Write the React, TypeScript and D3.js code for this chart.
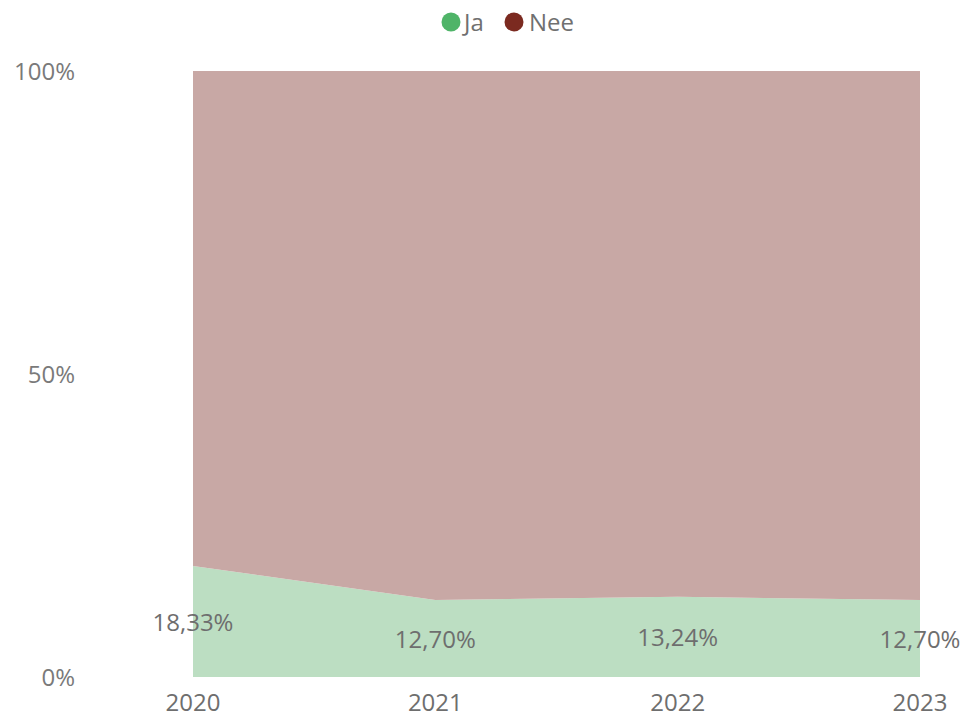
import React from "react";
import * as d3 from "d3";

const years = ["2020", "2021", "2022", "2023"];
const jaValues = [18.33, 12.7, 13.24, 12.7];
const neeValues = [81.67, 87.3, 86.76, 87.3];
const yTicks = [0, 50, 100];
const seriesNames = ["Ja", "Nee"];
const dotColors = ["#4fb468", "#7b2a20"];
const areaColors = ["#bcdec2", "#c8a8a5"];

const W = 965;
const H = 718;
const left = 193;
const right = 920;
const top = 71;
const bottom = 677;
const font = "'Segoe UI', 'Open Sans', 'Noto Sans', sans-serif";
const fs = 24;

export default function App() {
  const x = d3.scalePoint<string>().domain(years).range([left, right]);
  const y = d3.scaleLinear().domain([0, 100]).range([bottom, top]);

  const data = years.map((yr, i) => ({ year: yr, Ja: jaValues[i], Nee: neeValues[i] }));
  const stack = d3.stack<any>().keys(seriesNames);
  const series = stack(data);
  const area = d3
    .area<any>()
    .x((d) => x(d.data.year) as number)
    .y0((d) => y(d[0]))
    .y1((d) => y(d[1]));

  const fmt = (v: number) => v.toFixed(2).replace(".", ",") + "%";

  return (
    <svg width={W} height={H} style={{ position: "absolute", left: 0, top: 0, background: "#fff" }}>
      {series.map((s, i) => (
        <path key={s.key} d={area(s) || ""} fill={areaColors[i]} />
      ))}
      {yTicks.map((t) => (
        <text key={t} x={75} y={y(t) + 1} dy="0.35em" textAnchor="end" fontFamily={font} fontSize={fs} fill="#7a7a7a">
          {t + "%"}
        </text>
      ))}
      {years.map((yr) => (
        <text key={yr} x={x(yr)} y={703} dy="0.35em" textAnchor="middle" fontFamily={font} fontSize={fs} fill="#6e6e6e">
          {yr}
        </text>
      ))}
      {jaValues.map((v, i) => (
        <text
          key={i}
          x={x(years[i])}
          y={y(v / 2) + 1}
          dy="0.35em"
          textAnchor="middle"
          fontFamily={font}
          fontSize={fs}
          fill="#6e6e6e"
        >
          {fmt(v)}
        </text>
      ))}
      <g>
        <circle cx={451} cy={22} r={9.5} fill={dotColors[0]} />
        <text x={464} y={23} dy="0.35em" fontFamily={font} fontSize={fs} fill="#707070">
          {seriesNames[0]}
        </text>
        <circle cx={514} cy={22} r={9.5} fill={dotColors[1]} />
        <text x={529} y={23} dy="0.35em" fontFamily={font} fontSize={fs} fill="#707070">
          {seriesNames[1]}
        </text>
      </g>
    </svg>
  );
}
